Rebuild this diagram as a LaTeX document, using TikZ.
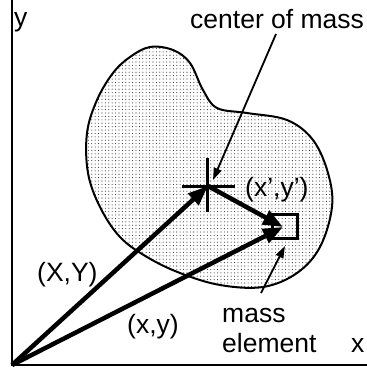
\documentclass[tikz,border=0pt]{standalone}
\usepackage{fontspec}
\setmainfont{Liberation Sans}
\usetikzlibrary{arrows.meta,patterns.meta}
\begin{document}
\begin{tikzpicture}[x=1pt,y=-1pt,
  lbl/.style={anchor=base west,inner sep=0pt,font=\fontsize{26.5}{30}\selectfont},
  vec/.style={line width=4.5pt,-{Triangle[length=20pt,width=15pt]}},
  lead/.style={line width=1.8pt,-{Triangle[length=12pt,width=8pt]}}]
\useasboundingbox (0,0) rectangle (367,368);
% blob
\draw[line width=2pt,pattern={Dots[distance=3.4pt,radius=0.55pt]},pattern color=black!80]
 plot[smooth cycle,tension=0.6] coordinates {
 (113,73) (97,100) (87,133) (88,173) (100,207) (120,237) (147,257) (180,273)
 (220,285) (263,287) (297,273) (320,247) (332,207) (328,173) (313,140)
 (287,120) (247,113) (217,108) (203,90) (190,63) (173,50) (150,47) (130,57)};
% axes
\coordinate (O) at (12,365);
\coordinate (Ytop) at (12,0);
\coordinate (Xend) at (367,365);
\draw[line width=2.5pt] (Ytop) -- (O) -- (Xend);
% cross
\coordinate (C) at (208,186);
\coordinate (Cl) at (182,186);
\coordinate (Cr) at (235,186);
\coordinate (Ct) at (208,158);
\coordinate (Cb) at (208,212);
\draw[line width=3pt] (Cl) -- (Cr) (Ct) -- (Cb);
% box
\node[draw,line width=3pt,minimum width=25pt,minimum height=24pt,inner sep=0pt] (B) at (285.5,226) {};
\coordinate (E) at (283,227);
% vectors
\draw[vec] (O) -- (C);
\draw[vec] (O) -- (E);
\draw[vec] (C) -- (E);
% labels
\node[lbl] (ly) at (14,26) {y};
\node[lbl] (lcm) at (190,28) {center of mass};
\node[lbl] (lxp) at (245,196) {(x’,y’)};
\node[lbl] (lXY) at (37,281) {(X,Y)};
\node[lbl] (lxy) at (127,333) {(x,y)};
\node[lbl] (lm) at (222,322) {mass};
\node[lbl] (le) at (222,352) {element};
\node[lbl] (lx) at (351,352) {x};
% leaders
\coordinate (L1s) at (276,34);
\coordinate (L1e) at (213,180);
\coordinate (L2s) at (261,293);
\coordinate (L2e) at (285,246);
\draw[lead] (L1s) -- (L1e);
\draw[lead] (L2s) -- (L2e);
\end{tikzpicture}
\end{document}
